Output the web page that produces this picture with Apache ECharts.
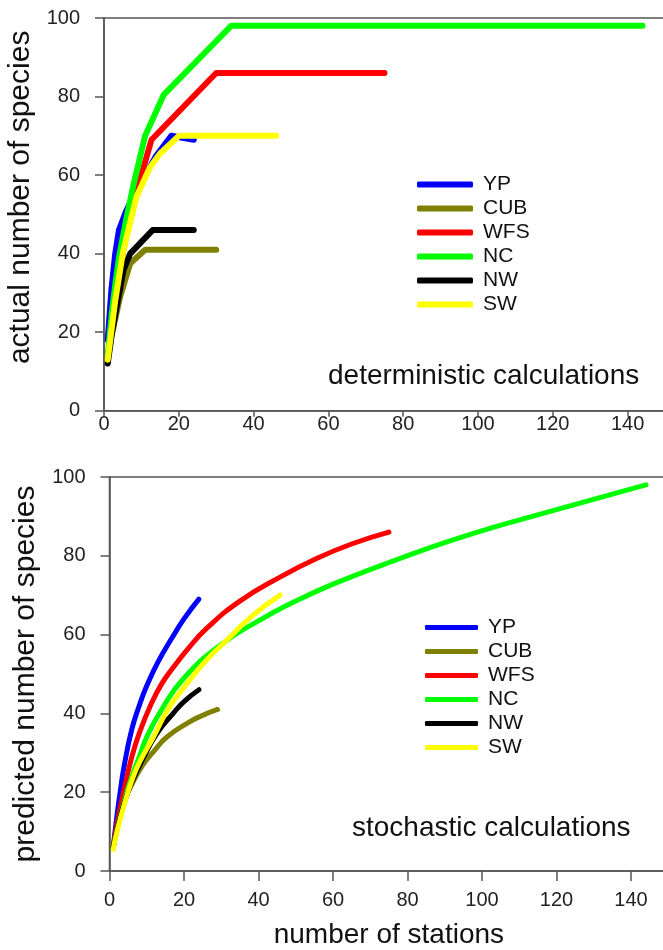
<!DOCTYPE html>
<html>
<head>
<meta charset="utf-8">
<script src="https://cdn.jsdelivr.net/npm/echarts@6/dist/echarts.min.js"></script>
<style>
  html, body { margin: 0; padding: 0; background: #fff; }
</style>
</head>
<body>
<div id="chart" style="width: 663px; height: 950px"></div>
<script>
// region names, legend order
const regions = ['YP', 'CUB', 'WFS', 'NC', 'NW', 'SW']
const colors = ['#0000ff', '#808000', '#ff0000', '#00ff00', '#000000', '#ffff00']

// deterministic calculations: [stations, species]
const detYP = [[1, 18], [2, 31], [3, 40], [4, 46], [6, 51], [8, 55], [11, 60], [14, 65], [18, 70], [24, 69]]
const detCUB = [[1, 13], [2, 19], [4.3, 29], [7, 37.5], [11, 41], [30, 41]]
const detWFS = [[1, 13], [2, 21], [3, 28], [4, 35], [6, 45], [8, 53], [10, 60], [12.7, 69], [30, 86], [75, 86]]
const detNC = [[1, 14], [2, 24], [3, 32], [4, 39], [6, 49], [8, 58], [11, 70], [16, 80.5], [34, 98], [144, 98]]
const detNW = [[1, 12], [2, 19], [3.4, 26.5], [5.2, 35.8], [7, 40], [13, 46], [24, 46]]
const detSW = [[1, 13], [3, 28], [5, 40], [7, 48], [8.7, 54.5], [12.3, 62], [15, 65.5], [20, 70], [46, 70]]

// stochastic calculations: [stations, predicted species]
const stoYP = [[1, 6], [2, 14], [3, 21], [4, 27], [6, 36], [8, 42], [10, 47], [13, 53], [17, 59.5], [20, 64], [24, 69]]
const stoCUB = [[1, 6], [2, 11], [4, 17.5], [6, 22], [9, 27], [12, 30.5], [15.4, 34], [21.6, 37.9], [25, 39.5], [29, 41]]
const stoWFS = [[1, 6], [2, 12], [4, 21], [6, 29], [8, 35], [11, 42], [14, 47.5], [17, 51.5], [21, 56.3], [26, 61.5], [35, 68.5], [46, 74.7], [56, 79.5], [65, 83], [75, 86]]
const stoNC = [[1, 6], [2, 10.5], [4, 18], [6, 24], [8, 29], [10, 34], [14, 41], [20, 49], [30, 57.5], [40, 63.5], [50, 68.5], [60, 72.8], [75, 78.3], [96, 85.2], [120, 91.7], [144, 98]]
const stoNW = [[1, 6], [2, 10.5], [4, 17.5], [6, 22.5], [9, 28.5], [12.7, 34.9], [17.1, 40], [20, 43], [24, 46]]
const stoSW = [[1, 5.5], [2, 10], [4, 17], [6, 23], [8, 27.5], [11.8, 34], [16, 41.5], [21.6, 48.5], [26, 53.5], [31.5, 58.6], [38, 64.5], [45.8, 70]]

const detData = [detYP, detCUB, detWFS, detNC, detNW, detSW]
const stoData = [stoYP, stoCUB, stoWFS, stoNC, stoNW, stoSW]

const font = 'Liberation Sans'
const axisColor = '#555'

function makeX(gridIndex, labelMargin, tickLen, name) {
  return {
    type: 'value',
    gridIndex: gridIndex,
    min: 0,
    max: 150,
    interval: 20,
    splitLine: { show: false },
    axisLine: { onZero: false, lineStyle: { color: axisColor, width: 1.5 } },
    axisTick: { length: tickLen, lineStyle: { color: axisColor, width: 1.5 } },
    axisLabel: { color: '#222', fontFamily: font, fontSize: 20, margin: labelMargin, showMaxLabel: false },
    name: name,
    nameLocation: 'middle',
    nameGap: 50,
    nameTextStyle: { color: '#111', fontFamily: font, fontSize: 28 }
  }
}

function makeY(gridIndex, name, pad) {
  return {
    type: 'value',
    gridIndex: gridIndex,
    min: 0,
    max: 100,
    interval: 20,
    splitLine: { show: false },
    axisLine: { lineStyle: { color: axisColor, width: 1.5 } },
    axisTick: { length: 9, lineStyle: { color: axisColor, width: 1.5 } },
    axisLabel: { color: '#222', fontFamily: font, fontSize: 20, margin: 24 },
    name: name,
    nameLocation: 'middle',
    nameGap: 62,
    nameTextStyle: { color: '#111', fontFamily: font, fontSize: 30, padding: pad }
  }
}

function makeSeries(data, index, smooth, width) {
  return data.map(function (d, i) {
    return {
      name: regions[i],
      type: 'line',
      xAxisIndex: index,
      yAxisIndex: index,
      data: d,
      smooth: smooth,
      showSymbol: false,
      symbol: 'none',
      animation: false,
      itemStyle: { color: colors[i] },
      lineStyle: { color: colors[i], width: width, cap: 'round', join: 'round' }
    }
  })
}

function makeLegend(left, top, w, h) {
  return {
    orient: 'vertical',
    left: left,
    top: top,
    data: regions,
    icon: 'roundRect',
    itemWidth: w,
    itemHeight: h,
    itemGap: 3,
    selectedMode: false,
    textStyle: { color: '#111', fontFamily: font, fontSize: 21, padding: [0, 0, 0, 5] }
  }
}

var myChart = echarts.init(document.getElementById('chart'))
myChart.setOption({
  backgroundColor: '#fff',
  animation: false,
  grid: [
    { left: 104, top: 18, width: 561, height: 392.7, show: true, borderColor: axisColor, borderWidth: 1.5, outerBoundsMode: 'none', containLabel: false },
    { left: 109.5, top: 477, width: 558.75, height: 394, show: true, borderColor: axisColor, borderWidth: 1.5, outerBoundsMode: 'none', containLabel: false }
  ],
  xAxis: [makeX(0, 4, 6, ''), makeX(1, 19, 10, 'number of stations')],
  yAxis: [makeY(0, 'actual number of species', [0, 0, 0, 34]), makeY(1, 'predicted number of species', [0, 0, 0, 0])],
  legend: [makeLegend(412, 169, 56, 6), makeLegend(420, 612, 53, 5)],
  graphic: [
    {
      type: 'text',
      left: 328,
      top: 362,
      style: { text: 'deterministic calculations', fill: '#111', font: '28px "Liberation Sans"' }
    },
    {
      type: 'text',
      left: 352,
      top: 814,
      style: { text: 'stochastic calculations', fill: '#111', font: '28px "Liberation Sans"' }
    }
  ],
  series: makeSeries(detData, 0, false, 6).concat(makeSeries(stoData, 1, 0.5, 5))
})
</script>
</body>
</html>
